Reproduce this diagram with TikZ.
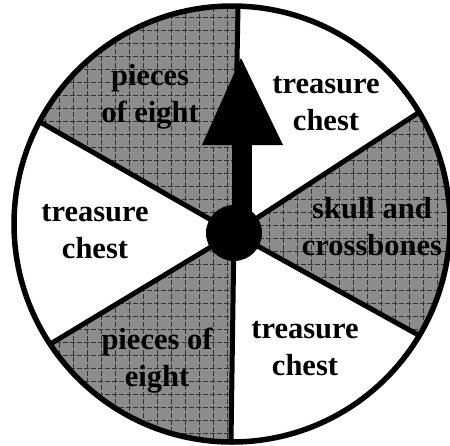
\documentclass[tikz,border=0pt]{standalone}
\usepackage{fontspec}
\setmainfont{Liberation Serif}
\usetikzlibrary{calc}
\begin{document}
\begin{tikzpicture}[x=1pt,y=-1pt,
  lbl/.style={font=\fontsize{30.5}{37}\selectfont\bfseries, align=center, inner sep=0pt},
  spoke/.style={line width=5pt},
  rim/.style={line width=5.5pt},
  sectorfill/.style={fill=black!45},
  gridline/.style={line width=0.8pt, black!80, dash pattern=on 5pt off 2pt}]
\useasboundingbox (0,0) rectangle (450,445);
\fill[white] (0,0) rectangle (450,445);
\coordinate (c) at (232,224);
\coordinate (hub) at (234,233);
\coordinate (ptop) at (238,6);
\coordinate (pbot) at (231,442);
\coordinate (pul) at (40,122);
\coordinate (pur) at (418,113);
\coordinate (pll) at (52,343);
\coordinate (plr) at (422,337);
% shaded sectors
\begin{scope}
  \clip (c) circle (218);
  \clip (hub) -- ($(hub)!2!(pul)$) -- ($(hub)!2!(ptop)$) -- cycle
        (hub) -- ($(hub)!2!(pur)$) -- ($(hub)!2!(plr)$) -- cycle
        (hub) -- ($(hub)!2!(pll)$) -- ($(hub)!2!(pbot)$) -- cycle;
  \fill[sectorfill] (0,0) rectangle (450,445);
  \foreach \yy in {4,17,...,445} \draw[gridline] (0,\yy) -- (450,\yy);
  \foreach \xx in {3,17,...,450} \draw[gridline] (\xx,0) -- (\xx,445);
\end{scope}
% spokes
\begin{scope}
  \clip (c) circle (218);
  \foreach \p in {ptop,pbot,pul,pur,pll,plr}
    \draw[spoke] (hub) -- ($(hub)!1.1!(\p)$);
\end{scope}
% rim
\draw[rim] (c) circle (218);
% pointer
\fill (232,233) rectangle (252,140);
\fill (241,58) -- (202,145) -- (283,145) -- cycle;
\fill (hub) circle (28);
% labels
\node[lbl] (pe1) at (150,97) {pieces\\of eight};
\node[lbl] (tc1) at (326,104) {treasure\\chest};
\node[lbl] (sc) at (372,227) {skull and\\crossbones};
\node[lbl] (tc2) at (95,232) {treasure\\chest};
\node[lbl] (pe2) at (157,361) {pieces of\\eight};
\node[lbl] (tc3) at (305,349) {treasure\\chest};
\end{tikzpicture}
\end{document}
